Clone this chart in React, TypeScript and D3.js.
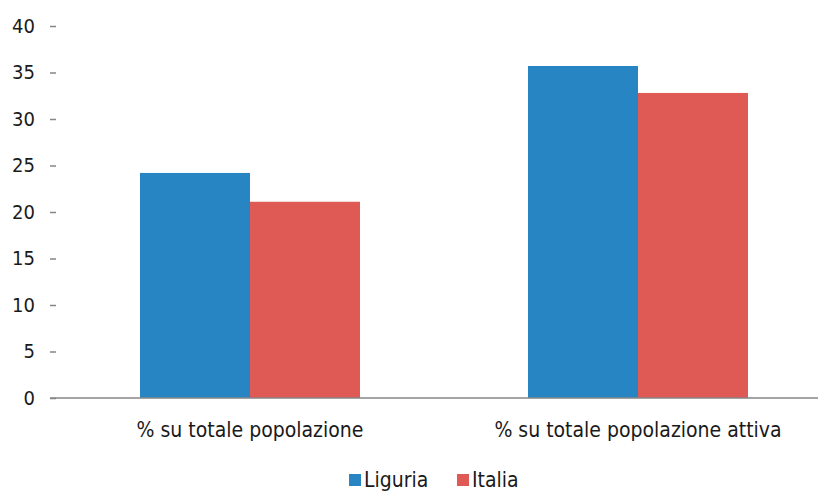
import { useEffect, useRef } from "react";
import * as d3 from "d3";

// ── Data ──────────────────────────────────────────────────────────────────────

const CATEGORIES = ["% su totale popolazione", "% su totale popolazione attiva"];
const SERIES     = ["Liguria", "Italia"];
const LIGURIA    = [24.2, 35.7];
const ITALIA     = [21.1, 32.8];
const Y_TICKS    = [0, 5, 10, 15, 20, 25, 30, 35, 40];

// ── Tokens ────────────────────────────────────────────────────────────────────

const BLUE  = "#2785C3";
const RED   = "#E05A55";
const AXIS  = "#868686";
const FG    = "#1a1a1a";
const FONT  = "'DejaVu Sans Condensed', 'DejaVu Sans', sans-serif";
const COLORS: Record<string, string> = { Liguria: BLUE, Italia: RED };

export default function App() {
  const svgRef = useRef<SVGSVGElement>(null);

  useEffect(() => {
    if (!svgRef.current) return;

    const W = 818;
    const svg = d3.select(svgRef.current);
    svg.selectAll("*").remove();

    const rows = CATEGORIES.map((c, i) => ({ cat: c, Liguria: LIGURIA[i], Italia: ITALIA[i] }));

    const x0 = d3.scaleBand()
      .domain(CATEGORIES)
      .range([56, 832])
      .paddingInner(0.433)
      .paddingOuter(0.2165);

    const x1 = d3.scaleBand()
      .domain(SERIES)
      .range([0, x0.bandwidth()]);

    const y = d3.scaleLinear().domain([0, 40]).range([398, 26]);

    // Bars
    const groups = svg.selectAll(".grp")
      .data(rows)
      .join("g")
      .attr("class", "grp")
      .attr("transform", d => `translate(${x0(d.cat)},0)`);

    groups.selectAll("rect")
      .data(d => SERIES.map(s => ({ s, v: (d as any)[s] as number })))
      .join("rect")
      .attr("x", d => x1(d.s)!)
      .attr("y", d => y(d.v))
      .attr("width", x1.bandwidth())
      .attr("height", d => y(0) - y(d.v))
      .attr("fill", d => COLORS[d.s]);

    // Y axis — ticks only, no domain
    svg.append("g")
      .attr("transform", "translate(56,0)")
      .call(d3.axisLeft(y).tickValues(Y_TICKS).tickSize(6).tickPadding(15))
      .call(g => g.select(".domain").remove())
      .call(g => g.selectAll("line").attr("stroke", AXIS).attr("stroke-width", 1.5))
      .call(g => g.selectAll("text")
        .attr("fill", FG)
        .attr("font-size", "20px")
        .attr("font-family", FONT));

    // Baseline
    svg.append("line")
      .attr("x1", 50).attr("x2", W)
      .attr("y1", y(0)).attr("y2", y(0))
      .attr("stroke", AXIS)
      .attr("stroke-width", 1.5);

    // Category labels
    svg.selectAll(".cat")
      .data(CATEGORIES)
      .join("text")
      .attr("class", "cat")
      .attr("x", d => x0(d)! + x0.bandwidth() / 2)
      .attr("y", 437)
      .attr("text-anchor", "middle")
      .attr("fill", FG)
      .attr("font-size", "21px")
      .attr("font-family", FONT)
      .text(d => d);

    // Legend
    const legend = [
      { s: "Liguria", x: 349 },
      { s: "Italia",  x: 457 },
    ];
    const lg = svg.append("g");
    legend.forEach(d => {
      lg.append("rect")
        .attr("x", d.x).attr("y", 474)
        .attr("width", 12).attr("height", 12)
        .attr("fill", COLORS[d.s]);
      lg.append("text")
        .attr("x", d.x + 15).attr("y", 487)
        .attr("fill", FG)
        .attr("font-size", "21px")
        .attr("font-family", FONT)
        .text(d.s);
    });
  }, []);

  return (
    <svg
      ref={svgRef}
      width={818}
      height={491}
      style={{ position: "absolute", left: 0, top: 0, background: "#fff" }}
    />
  );
}
